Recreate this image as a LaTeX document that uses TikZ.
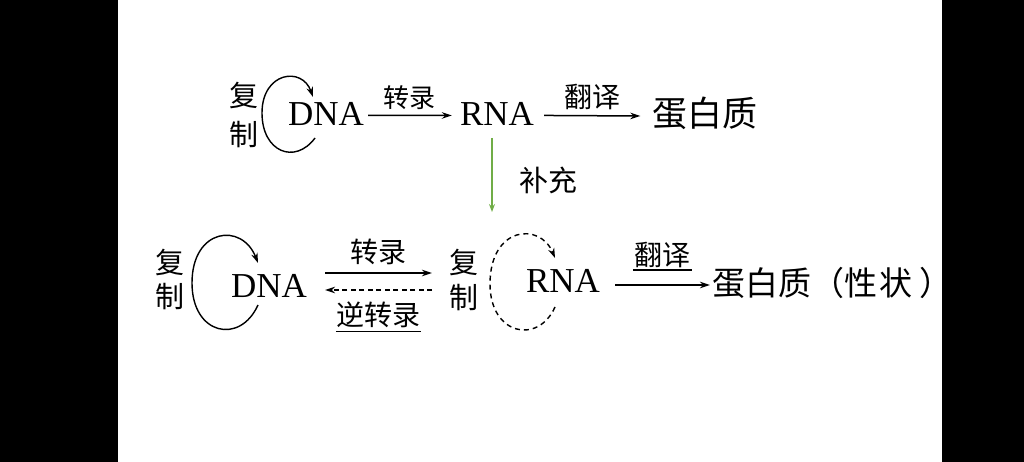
\documentclass[tikz,border=0pt]{standalone}
\usepackage{fontspec}
\setmainfont{Liberation Serif}
\newfontfamily\cjk{Noto Sans CJK SC}
\usetikzlibrary{arrows.meta}
\definecolor{arrowgreen}{RGB}{112,173,71}
\tikzset{
  cn/.style={font=\cjk\fontsize{#1}{#1}\selectfont, inner sep=0pt},
  lat/.style={font=\fontsize{35}{40}\selectfont, inner sep=0pt, anchor=base},
  conn/.style={line width=1.5pt, -{Stealth[length=10pt,width=6.5pt]}},
  loopline/.style={line width=1.4pt, -{Stealth[length=10pt,width=6.5pt]}},
  dloop/.style={loopline, dash pattern=on 5pt off 4pt},
  uline/.style={line width=1.4pt},
}
\begin{document}
\begin{tikzpicture}[x=1pt,y=-1pt]
\useasboundingbox (0,0) rectangle (1024,462);
\fill[black] (0,0) rectangle (118,462);
\fill[black] (942,0) rectangle (1024,462);
% ---- top row ----
\node[cn=29] (fu1) at (244,95) {复};
\node[cn=29] (zhi1) at (244,135) {制};
\node[lat] (dna1) at (326,126) {DNA};
\node[lat] (rna1) at (497,126) {RNA};
\node[cn=35] (prot1) at (705,113) {蛋白质};
\coordinate (l1s) at (315,138);
\coordinate (l1e) at (313,97);
\draw[loopline] (l1s) .. controls (295,165) and (262,152) .. (262,113)
  .. controls (262,72) and (302,66) .. (l1e);
\draw[conn] ([xshift=4pt,yshift=-1pt]dna1.east) -- ([xshift=-8pt,yshift=-1pt]rna1.west)
  node[midway, above=5pt, cn=26] (zl1) {转录};
\draw[conn] ([xshift=10pt,yshift=-1pt]rna1.east) -- ([xshift=-12pt]prot1.west |- 0,116)
  node[midway, above=5pt, cn=28] (fy1) {翻译};
% ---- green arrow ----
\coordinate (g1) at (492,138);
\coordinate (g2) at (492,212);
\draw[arrowgreen, line width=1.1pt, -{Stealth[length=8pt,width=6pt,open]}] (g1) -- (g2);
\node[cn=29] (bc) at (548,180) {补充};
% ---- bottom row ----
\node[cn=29] (fu2) at (170,262) {复};
\node[cn=29] (zhi2) at (170,297) {制};
\node[lat] (dna2) at (269,297) {DNA};
\coordinate (l2s) at (258,305);
\coordinate (l2e) at (258,263);
\draw[loopline] (l2s) .. controls (240,345) and (192,335) .. (192,283)
  .. controls (192,228) and (242,222) .. (l2e);
\coordinate (fa) at (325,273);
\coordinate (fb) at (432,273);
\coordinate (ba) at (432,290);
\coordinate (bb) at (325,290);
\draw[conn] (fa) -- (fb) node[midway, above=7pt, cn=28] (zl2) {转录};
\draw[conn, dash pattern=on 5pt off 3.5pt] (ba) -- (bb)
  node[midway, below=11pt, cn=28] (nzl) {逆转录};
\draw[uline] ([yshift=-3pt]nzl.south west) -- ([yshift=-3pt]nzl.south east);
\node[cn=29] (fu3) at (464,262) {复};
\node[cn=29] (zhi3) at (464,298) {制};
\node[lat] (rna2) at (563,292) {RNA};
\coordinate (l3s) at (555,307);
\coordinate (l3e) at (555,258);
\draw[dloop] (l3s) .. controls (538,345) and (490,335) .. (490,284)
  .. controls (490,226) and (540,222) .. (l3e);
\node[cn=33, anchor=west] (prot2) at (712,283) {蛋白质（性\kern2pt 状\kern7pt ）};
\draw[conn] ([xshift=15pt]rna2.east |- 0,285) -- ([xshift=-2pt]prot2.west |- 0,285)
  node[midway, above=16pt, cn=28] (fy2) {翻译};
\draw[uline] ([yshift=-1pt,xshift=-1pt]fy2.south west) -- ([yshift=-1pt,xshift=1pt]fy2.south east);
\end{tikzpicture}
\end{document}
